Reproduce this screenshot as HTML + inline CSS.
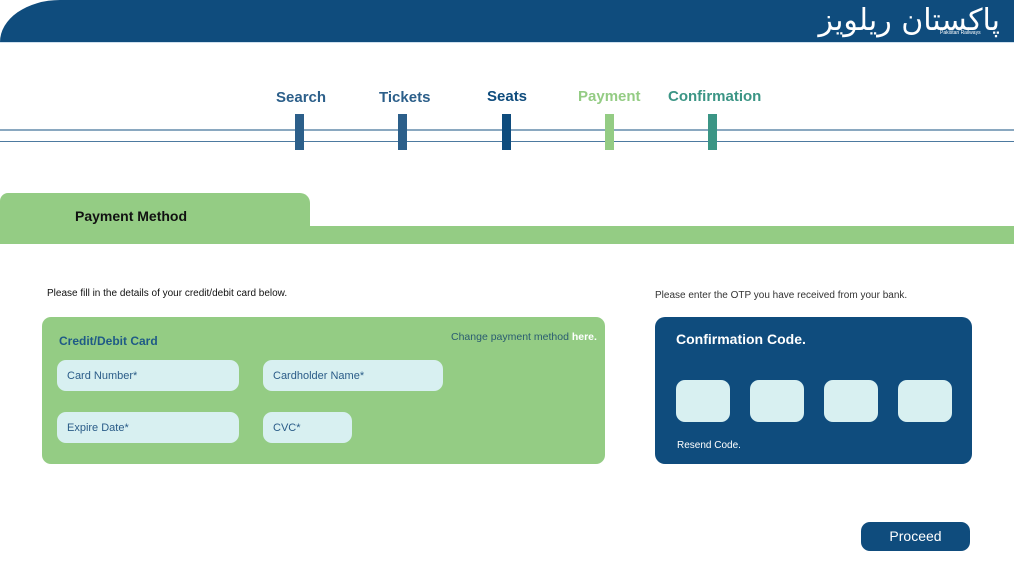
<!DOCTYPE html>
<html><head><meta charset="utf-8"><style>
*{margin:0;padding:0;box-sizing:border-box}
body{width:1014px;height:570px;background:#fff;position:relative;overflow:hidden;font-family:"Liberation Sans",sans-serif}
.a{position:absolute}
.step{position:absolute;font-size:15px;font-weight:600;top:89px}
.bar{position:absolute;top:114px;width:9px;height:36px}
.inp{position:absolute;background:#d8f0f1;border-radius:9px;color:#2a5c88;font-size:11px;padding:10px}
.otp{position:absolute;top:380px;width:54px;height:42px;background:#d8f0f1;border-radius:9px}
</style></head><body>
<div class="a" style="left:0;top:0;width:1014px;height:42px;background:#0f4c7d;border-top-left-radius:60px 42px"></div>
<div class="a" style="left:0;top:42px;width:1014px;height:1px;background:#cfe0ee"></div>
<div class="a" style="right:14px;top:3px;color:#fff;font-size:30px;font-family:'DejaVu Sans',sans-serif" dir="rtl">پاکستان ریلویز</div>
<div class="a" style="left:940px;top:30px;color:#fff;font-size:5px">Pakistan Railways</div>
<div class="a" style="left:0;top:129px;width:1014px;height:2px;background:#8aa8c0"></div>
<div class="a" style="left:0;top:141px;width:1014px;height:1px;background:#4d7aa0"></div>
<div class="step" style="left:276px;color:#2c5f8a">Search</div>
<div class="step" style="left:379px;color:#2c5f8a">Tickets</div>
<div class="step" style="left:487px;color:#0f4c7d;top:88px">Seats</div>
<div class="step" style="left:578px;color:#94cc84;top:88px">Payment</div>
<div class="step" style="left:668px;color:#3b9585;top:88px">Confirmation</div>
<div class="bar" style="left:295px;background:#2c5f8a"></div>
<div class="bar" style="left:398px;background:#2c5f8a"></div>
<div class="bar" style="left:502px;background:#0f4c7d"></div>
<div class="bar" style="left:605px;background:#94cc84"></div>
<div class="bar" style="left:708px;background:#3b9585"></div>
<div class="a" style="left:0;top:193px;width:310px;height:40px;background:#94cc84;border-top-right-radius:10px;border-top-left-radius:8px"></div>
<div class="a" style="left:0;top:226px;width:1014px;height:18px;background:#94cc84"></div>
<div class="a" style="left:75px;top:208px;font-size:14px;font-weight:bold;color:#111">Payment Method</div>
<div class="a" style="left:47px;top:288px;font-size:10px;color:#111">Please fill in the details of your credit/debit card below.</div>
<div class="a" style="left:655px;top:290px;font-size:10px;color:#333">Please enter the OTP you have received from your bank.</div>
<div class="a" style="left:42px;top:317px;width:563px;height:147px;background:#94cc84;border-radius:9px"></div>
<div class="a" style="left:59px;top:334px;font-size:12px;font-weight:bold;color:#1f5a86">Credit/Debit Card</div>
<div class="a" style="left:451px;top:331px;font-size:10.5px;color:#2a5c70">Change payment method <b style="color:#fff">here.</b></div>
<div class="inp" style="left:57px;top:360px;width:182px;height:31px">Card Number*</div>
<div class="inp" style="left:263px;top:360px;width:180px;height:31px">Cardholder Name*</div>
<div class="inp" style="left:57px;top:412px;width:182px;height:31px">Expire Date*</div>
<div class="inp" style="left:263px;top:412px;width:89px;height:31px">CVC*</div>
<div class="a" style="left:655px;top:317px;width:317px;height:147px;background:#0f4c7d;border-radius:10px"></div>
<div class="a" style="left:676px;top:331px;font-size:14px;font-weight:bold;color:#fff">Confirmation Code.</div>
<div class="otp" style="left:676px"></div>
<div class="otp" style="left:750px"></div>
<div class="otp" style="left:824px"></div>
<div class="otp" style="left:898px"></div>
<div class="a" style="left:677px;top:440px;font-size:10px;color:#fff">Resend Code.</div>
<div class="a" style="left:861px;top:522px;width:109px;height:29px;background:#0f4c7d;border-radius:9px;color:#fff;font-size:14px;text-align:center;line-height:29px">Proceed</div>
</body></html>
